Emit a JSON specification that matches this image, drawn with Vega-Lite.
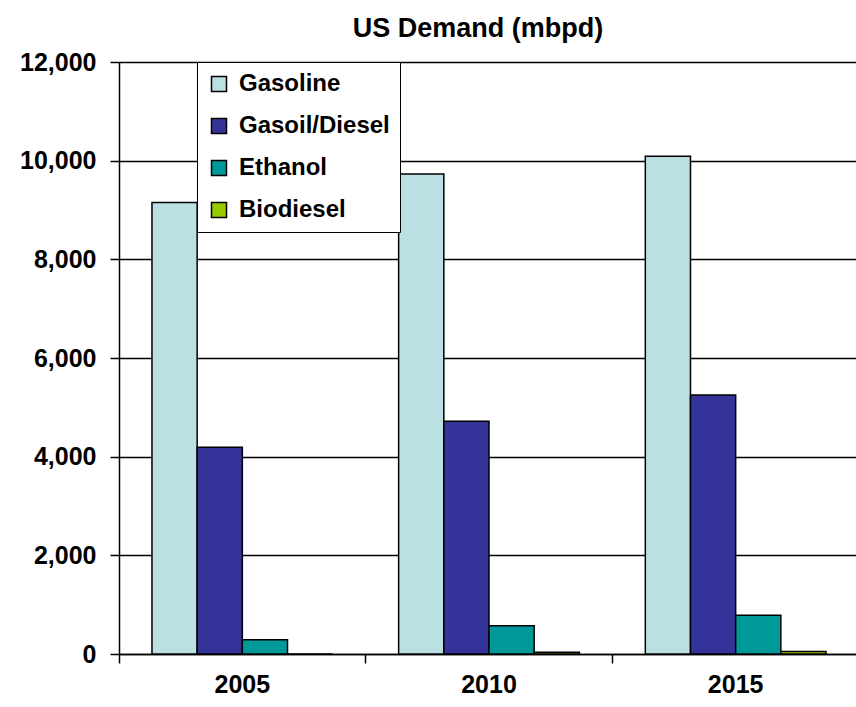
{
  "$schema": "https://vega.github.io/schema/vega-lite/v6.json",
  "width": 740,
  "height": 592,
  "autosize": "none",
  "padding": {"left": 119, "top": 62, "right": 0, "bottom": 53},
  "background": "white",
  "title": {
    "text": "US Demand (mbpd)",
    "font": "Liberation Sans",
    "fontSize": 27,
    "fontWeight": "bold",
    "color": "black",
    "anchor": "middle",
    "offset": 7,
    "dx": -11
  },
  "data": {
    "values": [
      {"year": "2005", "fuel": "Gasoline", "value": 9150},
      {"year": "2005", "fuel": "Gasoil/Diesel", "value": 4190},
      {"year": "2005", "fuel": "Ethanol", "value": 290},
      {"year": "2005", "fuel": "Biodiesel", "value": 0},
      {"year": "2010", "fuel": "Gasoline", "value": 9730},
      {"year": "2010", "fuel": "Gasoil/Diesel", "value": 4720},
      {"year": "2010", "fuel": "Ethanol", "value": 575},
      {"year": "2010", "fuel": "Biodiesel", "value": 35},
      {"year": "2015", "fuel": "Gasoline", "value": 10090},
      {"year": "2015", "fuel": "Gasoil/Diesel", "value": 5250},
      {"year": "2015", "fuel": "Ethanol", "value": 785},
      {"year": "2015", "fuel": "Biodiesel", "value": 50}
    ]
  },
  "mark": {"type": "bar", "stroke": "black", "strokeWidth": 1.5},
  "encoding": {
    "x": {
      "field": "year",
      "type": "nominal",
      "scale": {"paddingInner": 0, "paddingOuter": 0},
      "axis": {
        "title": null,
        "labelAngle": 0,
        "bandPosition": 0,
        "labelFont": "Liberation Sans",
        "labelFontSize": 25,
        "labelFontWeight": "bold",
        "labelColor": "black",
        "labelPadding": 9,
        "tickSize": 9,
        "tickColor": "black",
        "tickWidth": 1.5,
        "domainColor": "black",
        "domainWidth": 1.5,
        "grid": false
      }
    },
    "xOffset": {
      "field": "fuel",
      "sort": ["Gasoline", "Gasoil/Diesel", "Ethanol", "Biodiesel"],
      "scale": {"paddingInner": 0, "paddingOuter": 0.73}
    },
    "y": {
      "field": "value",
      "type": "quantitative",
      "scale": {"domain": [0, 12000], "nice": false},
      "axis": {
        "title": null,
        "values": [0, 2000, 4000, 6000, 8000, 10000, 12000],
        "format": ",.0f",
        "labelFont": "Liberation Sans",
        "labelFontSize": 25,
        "labelFontWeight": "bold",
        "labelColor": "black",
        "labelPadding": 14,
        "tickSize": 9,
        "tickColor": "black",
        "tickWidth": 1.5,
        "domainColor": "black",
        "domainWidth": 1.5,
        "grid": true,
        "gridColor": "black",
        "gridWidth": 1.4
      }
    },
    "color": {
      "field": "fuel",
      "type": "nominal",
      "sort": ["Gasoline", "Gasoil/Diesel", "Ethanol", "Biodiesel"],
      "scale": {
        "domain": ["Gasoline", "Gasoil/Diesel", "Ethanol", "Biodiesel"],
        "range": ["#BBE0E3", "#333399", "#009999", "#99CC00"]
      },
      "legend": {
        "title": null,
        "orient": "none",
        "legendX": 78,
        "legendY": 0,
        "direction": "vertical",
        "fillColor": "white",
        "strokeColor": "black",
        "padding": 10,
        "symbolType": "square",
        "symbolSize": 225,
        "symbolStrokeColor": "black",
        "symbolStrokeWidth": 1.5,
        "symbolOpacity": 1,
        "labelFont": "Liberation Sans",
        "labelFontSize": 24,
        "labelFontWeight": "bold",
        "labelColor": "black",
        "labelOffset": 8,
        "rowPadding": 18
      }
    }
  }
}
